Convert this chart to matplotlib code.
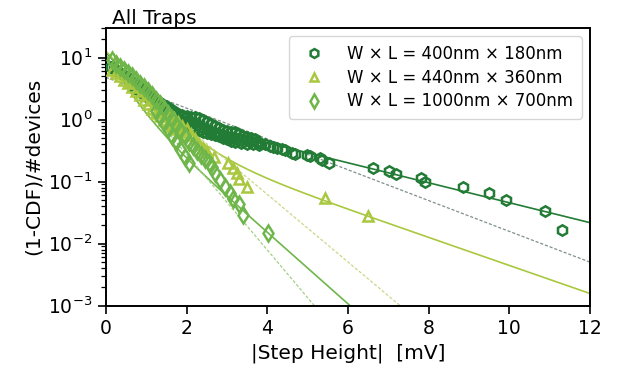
import numpy as np
import matplotlib
matplotlib.use("Agg")
import matplotlib.pyplot as plt

# ---- measured tail distributions (1-CDF normalised by number of devices) ----
# W x L = 400nm x 180nm  (dense band, its upper and lower edges, then the sparse tail)
step_400x180 = [0.12, 0.2, 0.28, 0.36, 0.44, 0.52, 0.6, 0.68, 0.76, 0.84, 0.92, 1.0,
                1.08, 1.16, 1.24, 1.32, 1.4, 1.48, 1.56, 1.64, 1.72, 1.8, 1.88, 1.96,
                2.04, 2.12, 2.2, 2.28, 2.36, 2.44, 2.52, 2.6, 2.68, 2.76, 2.84, 2.92,
                3.0, 3.08, 3.16, 3.25, 3.35, 3.49, 3.6, 3.74, 3.82, 3.95, 4.07, 4.15,
                4.24, 4.36, 4.45, 4.61, 4.7, 4.98, 5.05, 5.31, 5.36, 5.52,
                0.7, 0.8, 0.9, 1.0, 1.1, 1.2, 1.3, 1.4, 1.5, 1.6, 1.7, 1.8, 1.9, 2.0,
                2.1, 2.2, 2.3, 2.4, 2.5, 2.6, 2.7, 2.8, 2.9, 3.0, 3.1, 3.2, 3.3, 3.4,
                3.5, 3.6, 3.7,
                1.9, 2.0, 2.1, 2.2, 2.3, 2.4, 2.5, 2.6, 2.7, 2.8, 2.9, 3.0, 3.1, 3.2,
                3.35, 3.5, 3.65, 3.8,
                6.63, 7.03, 7.19, 7.81, 7.91, 8.86, 9.50, 9.93, 10.88, 11.31]
ccdf_400x180 = [7.0, 6.5, 6.0, 5.6, 5.2, 4.8, 4.4, 4.0, 3.6, 3.3, 3.0, 2.75,
                2.5, 2.3, 2.1, 1.93, 1.78, 1.64, 1.52, 1.42, 1.32, 1.23, 1.15, 1.07,
                1.0, 0.93, 0.87, 0.81, 0.76, 0.72, 0.68, 0.64, 0.60, 0.57, 0.555, 0.54,
                0.525, 0.51, 0.495, 0.48, 0.47, 0.46, 0.45, 0.44, 0.425, 0.40, 0.374, 0.36,
                0.35, 0.335, 0.32, 0.29, 0.28, 0.27, 0.255, 0.24, 0.225, 0.197,
                3.3, 2.95, 2.65, 2.4, 2.15, 1.95, 1.78, 1.62, 1.47, 1.38, 1.3, 1.23, 1.17, 1.14,
                1.12, 1.1, 1.05, 0.98, 0.9, 0.84, 0.78, 0.73, 0.69, 0.66, 0.64, 0.62, 0.58, 0.55,
                0.52, 0.50, 0.48,
                0.88, 0.82, 0.77, 0.72, 0.67, 0.63, 0.60, 0.58, 0.565, 0.54, 0.51, 0.48, 0.45, 0.435,
                0.42, 0.41, 0.40, 0.39,
                0.165, 0.149, 0.132, 0.116, 0.099, 0.0825, 0.066, 0.0495, 0.033, 0.0165]

# W x L = 440nm x 360nm
step_440x360 = [0.15, 0.25, 0.35, 0.45, 0.55, 0.65, 0.75, 0.85, 0.95, 1.05, 1.15, 1.25,
                1.35, 1.45, 1.55, 1.65, 1.75, 1.85, 1.95,
                1.6, 1.7, 1.8, 1.9, 2.0, 2.1, 2.2, 2.3, 2.4, 2.5,
                2.67, 3.04, 3.16, 3.25, 3.29, 3.49, 5.43, 6.51]
ccdf_440x360 = [6.2, 5.6, 5.0, 4.4, 3.9, 3.4, 2.9, 2.45, 2.05, 1.75, 1.5, 1.3,
                1.13, 1.0, 0.88, 0.78, 0.70, 0.63, 0.57,
                1.2, 1.05, 0.92, 0.80, 0.70, 0.58, 0.48, 0.41, 0.35, 0.30,
                0.25, 0.196, 0.165, 0.137, 0.11, 0.0825, 0.055, 0.0275]

# W x L = 1000nm x 700nm
step_1000x700 = [0.15, 0.25, 0.35, 0.45, 0.55, 0.65, 0.75, 0.85, 0.95, 1.05, 1.15, 1.25,
                 1.35, 1.45, 1.55, 1.65, 1.75, 1.85, 1.95, 2.05, 2.15, 2.25, 2.35, 2.45,
                 2.55, 2.62,
                 1.25, 1.35, 1.45, 1.55, 1.65, 1.75, 1.85, 1.95, 2.05,
                 2.71, 2.83, 2.96, 3.08, 3.16, 3.29, 3.39, 4.03]
ccdf_1000x700 = [9.0, 8.0, 7.1, 6.4, 5.7, 5.0, 4.4, 3.8, 3.3, 2.9, 2.5, 2.1,
                 1.8, 1.5, 1.25, 1.02, 0.83, 0.67, 0.54, 0.44, 0.37, 0.31, 0.27, 0.23,
                 0.20, 0.17,
                 1.35, 1.1, 0.88, 0.70, 0.55, 0.43, 0.33, 0.25, 0.20,
                 0.135, 0.105, 0.083, 0.065, 0.052, 0.044, 0.029, 0.0146]

labels = ["W \u00d7 L = 400nm \u00d7 180nm",
          "W \u00d7 L = 440nm \u00d7 360nm",
          "W \u00d7 L = 1000nm \u00d7 700nm"]

# ---- fitted models: double exponential (solid) and single exponential (dotted) ----
# (A1, tau1, A2, tau2) in [1/device, mV]
double_fit = [(10.4, 0.515, 1.85, 2.70),
              (11.9, 0.578, 0.81, 1.92),
              (8.0, 0.35, 3.05, 0.754)]
# (A, tau)
single_fit = [(4.8, 1.748),
              (9.4, 0.797),
              (9.5, 0.564)]

colors = ["#237c36", "#a9c83f", "#6fb64a"]
dotted_colors = ["#7f9089", "#c9d88a", "#a3cf84"]
markers = ["h", "^", "d"]

xs = [step_400x180, step_440x360, step_1000x700]
ys = [ccdf_400x180, ccdf_440x360, ccdf_1000x700]

fig = plt.figure(figsize=(6.19, 3.76), dpi=100)
ax = fig.add_axes([0.171, 0.1875, 0.782, 0.738])

v = np.linspace(0, 12, 600)
for (a1, t1, a2, t2), (a, t), c, dc in zip(double_fit, single_fit, colors, dotted_colors):
    ax.plot(v, a1 * np.exp(-v / t1) + a2 * np.exp(-v / t2), color=c, lw=1.2, zorder=2)
    ax.plot(v, a * np.exp(-v / t), color=dc, lw=0.9, ls=(0, (2.5, 1.5)), zorder=2)

for x, y, c, m, lab in zip(xs, ys, colors, markers, labels):
    ax.plot(x, y, ls="none", marker=m, ms=7.5 if m != "d" else 8.5, mfc="none",
            mec=c, mew=1.8, label=lab, zorder=3)

ax.set_yscale("log")
ax.set_xlim(0, 12)
ax.set_ylim(1e-3, 30)
ax.set_xticks(np.arange(0, 13, 2))
ax.tick_params(axis="both", which="major", labelsize=13.5, length=6, width=1.2)
ax.tick_params(axis="both", which="minor", length=3.5, width=0.9)
for s in ax.spines.values():
    s.set_linewidth(1.4)

ax.set_xlabel("|Step Height|  [mV]", fontsize=14.5)
ax.set_ylabel("(1-CDF)/#devices", fontsize=14.5)
ax.set_title("All Traps", loc="left", fontsize=14.5, pad=3, x=0.012)

ax.legend(loc="upper right", fontsize=12, numpoints=1, frameon=True, markerscale=0.85,
          handletextpad=1.0, borderpad=0.5, labelspacing=0.35)

fig.savefig("out.png", dpi=100)
